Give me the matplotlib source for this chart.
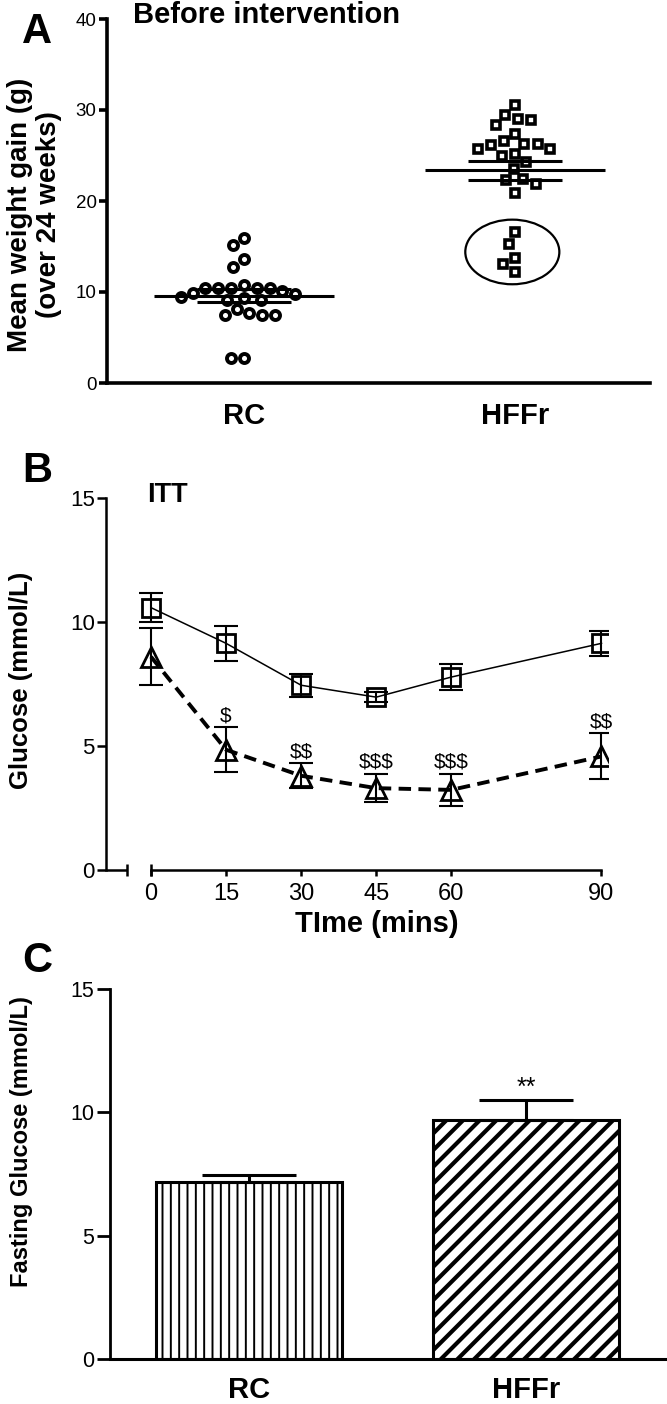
import numpy as np
import matplotlib
matplotlib.use("Agg")
import matplotlib.pyplot as plt
from matplotlib.patches import Ellipse

plt.rcParams['font.family'] = ['Liberation Sans', 'DejaVu Sans']

# ---------------- data ----------------
groups = ["RC", "HFFr"]
rc_gain = [15.9, 15.2, 13.6, 12.8, 10.8, 10.44, 10.44, 10.1, 9.8, 9.3, 9.1, 9.1,
           9.5, 9.9, 10.4, 10.44, 10.44, 7.7, 7.45, 7.45, 7.45, 8.1, 2.7, 2.7]
hffr_gain = [30.5, 29.5, 29.0, 28.9, 28.4, 27.4, 26.6, 26.3, 26.2, 25.7, 25.7, 26.3,
             24.9, 25.2, 24.3, 23.5, 22.4, 21.9, 22.3, 20.9,
             16.6, 15.3, 13.7, 13.1, 12.2]
hffr_circled = [16.6, 15.3, 13.7, 13.1, 12.2]
gain_mean = [9.6, 23.4]
gain_sem = [0.7, 1.05]

itt_time = [0, 15, 30, 45, 60, 90]
itt_sq_mean = [10.58, 9.14, 7.45, 6.97, 7.78, 9.14]
itt_sq_sem = [0.57, 0.70, 0.46, 0.20, 0.54, 0.50]
itt_tri_mean = [8.6, 4.85, 3.8, 3.3, 3.23, 4.58]
itt_tri_sem = [1.15, 0.9, 0.5, 0.57, 0.65, 0.93]
itt_sig = ["", "$", "$$", "$$$", "$$$", "$$"]

fg_mean = [7.19, 9.69]
fg_sem = [0.25, 0.81]
fg_sig = ["", "**"]

W, H = 667, 1404
fig = plt.figure(figsize=(W / 100, H / 100), dpi=100)


def box(l, t, r, b):
    return [l / W, 1 - b / H, (r - l) / W, (b - t) / H]


def swarm(vals, ax, center, d):
    """Beeswarm x positions (data units) computed in pixel space."""
    pos = ax.get_position()
    x0, x1 = ax.get_xlim()
    y0, y1 = ax.get_ylim()
    xpx = pos.width * W / (x1 - x0)
    ypx = pos.height * H / (y1 - y0)
    vals = np.asarray(vals, float)
    order = np.argsort(-vals)
    placed = []
    xs = np.zeros(len(vals))
    for i in order:
        y = vals[i] * ypx
        cands = [0.0]
        for px, py in placed:
            dy = abs(py - y)
            if dy < d:
                dx = np.sqrt(d * d - dy * dy)
                cands += [px + dx, px - dx]
        cands = sorted(cands, key=lambda c: (abs(c), c))
        for c in cands:
            if all((c - px) ** 2 + (y - py) ** 2 >= d * d - 1e-6 for px, py in placed):
                xs[i] = c
                placed.append((c, y))
                break
    return center + xs / xpx


# ---------------- Panel A ----------------
axA = fig.add_axes(box(107, 19, 650, 383))
axA.set_xlim(0.4945, 2.498)
axA.set_ylim(0, 40)
for s in ['top', 'right']:
    axA.spines[s].set_visible(False)
for s in ['left', 'bottom']:
    axA.spines[s].set_linewidth(2.6)
axA.set_yticks([0, 10, 20, 30, 40])
axA.tick_params(axis='y', direction='out', length=6, width=2.6, labelsize=13.5, pad=1.5)
axA.set_xticks([1, 2])
axA.set_xticklabels(groups, fontsize=21, fontweight='bold')
axA.tick_params(axis='x', length=0, pad=14)

xr = swarm(rc_gain, axA, 1, 13.0)
axA.plot(xr, rc_gain, 'o', ms=6.5, mfc='white', mec='black', mew=2.8, ls='none', zorder=3)
xh = swarm(hffr_gain, axA, 2, 13.5)
axA.plot(xh, hffr_gain, 's', ms=5.6, mfc='white', mec='black', mew=2.6, ls='none', zorder=3)
for i, (m, se) in enumerate(zip(gain_mean, gain_sem)):
    c = i + 1
    axA.hlines(m, c - 0.333, c + 0.333, color='black', lw=2.2, zorder=4)
    axA.hlines([m - se, m + se], c - 0.172, c + 0.172, color='black', lw=2.2, zorder=4)
cy = (max(hffr_circled) + min(hffr_circled)) / 2
axA.add_patch(Ellipse((1.99, cy), 0.347, (max(hffr_circled) - min(hffr_circled)) + 2.7,
                      fill=False, ec='black', lw=1.6, zorder=2))
axA.set_ylabel("Mean weight gain (g)\n(over 24 weeks)", fontsize=20, fontweight='bold',
               linespacing=1.15)
axA.yaxis.set_label_coords(-0.083, 0.4615)

fig.text(133 / W, 1 - 23 / H, "Before intervention", fontsize=21, fontweight='bold',
         va='baseline', ha='left')
fig.text(22 / W, 1 - 43 / H, "A", fontsize=30, fontweight='bold', va='baseline', ha='left')

# ---------------- Panel B ----------------
axB = fig.add_axes(box(106, 498, 608, 870))
xmin_b = -8.98
axB.set_xlim(xmin_b, 91.3)
axB.set_ylim(0, 15)
for s in ['top', 'right']:
    axB.spines[s].set_visible(False)
axB.spines['left'].set_linewidth(1.8)
axB.spines['bottom'].set_linewidth(1.8)
axB.spines['bottom'].set_bounds(0, 90)
axB.plot([xmin_b, -4.79], [0, 0], color='black', lw=1.8, clip_on=False, solid_capstyle='butt')
axB.plot([-4.79, 0], [0, 0], ls='none', marker='|', ms=8, mew=1.8, color='black', clip_on=False)
axB.set_yticks([0, 5, 10, 15])
axB.set_xticks(itt_time)
axB.tick_params(axis='y', direction='out', length=6.5, width=1.8, labelsize=16, pad=1.5)
axB.tick_params(axis='x', direction='out', length=4.5, width=1.8, labelsize=17, pad=5)

axB.plot(itt_time, itt_sq_mean, color='black', lw=1.1, zorder=2)
axB.plot(itt_time, itt_sq_mean, 's', ms=13.5, mfc='none', mec='black', mew=2.0, zorder=3)
axB.errorbar(itt_time, itt_sq_mean, yerr=itt_sq_sem, fmt='none', ecolor='black',
             elinewidth=1.5, capsize=8.3, capthick=1.5, zorder=2)
axB.plot(itt_time, itt_tri_mean, color='black', lw=2.8, ls=(0, (3.2, 1.9)), zorder=2)
axB.plot(itt_time, itt_tri_mean, '^', ms=14, mfc='none', mec='black', mew=2.0, zorder=3)
axB.errorbar(itt_time, itt_tri_mean, yerr=itt_tri_sem, fmt='none', ecolor='black',
             elinewidth=1.5, capsize=8.3, capthick=1.5, zorder=2)
for t, m, se, s in zip(itt_time, itt_tri_mean, itt_tri_sem, itt_sig):
    if s:
        axB.annotate(s, (t, m + se), xytext=(0, 1.5), textcoords='offset points',
                     ha='center', va='bottom', fontsize=15, parse_math=False)

axB.set_ylabel("Glucose (mmol/L)", fontsize=18.5, fontweight='bold')
axB.yaxis.set_label_coords(-0.146, 0.511)
axB.set_xlabel("TIme (mins)", fontsize=21, fontweight='bold')
axB.xaxis.set_label_coords(0.54, -0.1075)
fig.text(147 / W, 1 - 502 / H, "ITT", fontsize=19.5, fontweight='bold', va='baseline', ha='left')
fig.text(22 / W, 1 - 482 / H, "B", fontsize=30, fontweight='bold', va='baseline', ha='left')

# ---------------- Panel C ----------------
axC = fig.add_axes(box(110, 989, 667, 1359))
axC.set_xlim(0.4998, 2.508)
axC.set_ylim(0, 15)
for s in ['top', 'right']:
    axC.spines[s].set_visible(False)
axC.spines['left'].set_linewidth(2.0)
axC.spines['bottom'].set_linewidth(2.2)
axC.set_yticks([0, 5, 10, 15])
axC.tick_params(axis='y', direction='out', length=9.5, width=2.0, labelsize=15.5, pad=2)
axC.set_xticks([1, 2])
axC.set_xticklabels(groups, fontsize=21, fontweight='bold')
axC.tick_params(axis='x', length=0, pad=12.5)

hatches = ['||', '//']
hatch_lws = [1.4, 3.0]
for i, (m, h, hl) in enumerate(zip(fg_mean, hatches, hatch_lws)):
    with plt.rc_context({'hatch.linewidth': hl}):
        b = axC.bar(i + 1, m, width=0.671, color='white', edgecolor='black', lw=2.2,
                    hatch=h, zorder=2)
    for p in b.patches:
        if hasattr(p, 'set_hatch_linewidth'):
            p.set_hatch_linewidth(hl)
axC.errorbar([1, 2], fg_mean, yerr=[[0, 0], fg_sem], fmt='none', ecolor='black',
             elinewidth=2.2, capsize=34, capthick=2.2, zorder=3)
for i, (m, se, s) in enumerate(zip(fg_mean, fg_sem, fg_sig)):
    if s:
        axC.annotate(s, (i + 1, m + se), xytext=(0, 0), textcoords='offset points',
                     ha='center', va='bottom', fontsize=18)
axC.set_ylabel("Fasting Glucose (mmol/L)", fontsize=17, fontweight='bold')
axC.yaxis.set_label_coords(-0.138, 0.589)
fig.text(22 / W, 1 - 972 / H, "C", fontsize=30, fontweight='bold', va='baseline', ha='left')

fig.savefig("out.png", dpi=100)
